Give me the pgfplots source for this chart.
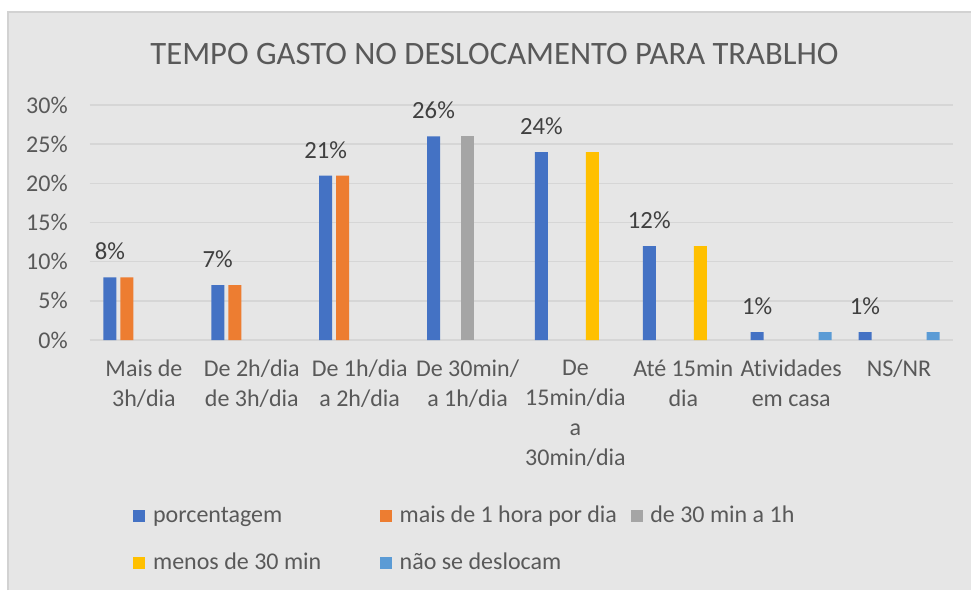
\documentclass[border=0pt]{standalone}
\usepackage{pgfplots}
\pgfplotsset{compat=1.18}
\usepackage{fontspec}
\setmainfont{Carlito}[Ligatures=NoCommon]

\definecolor{cBlue}{HTML}{4472C4}
\definecolor{cOrange}{HTML}{ED7D31}
\definecolor{cGray}{HTML}{A5A5A5}
\definecolor{cYellow}{HTML}{FFC000}
\definecolor{cLight}{HTML}{5B9BD5}
\definecolor{bgGray}{HTML}{E6E6E6}
\definecolor{edgeGray}{HTML}{D2D2D2}
\definecolor{gridGray}{HTML}{D6D6D6}
\definecolor{txt}{HTML}{595959}
\definecolor{lbl}{HTML}{404040}

% 1 px of the reference = 0.75pt
\def\px{0.75pt}

\pgfplotsset{
  sq legend/.style={legend image code/.code={\fill[##1] (0pt,-4.5pt) rectangle (9pt,4.5pt);}},
}

\begin{document}
\begin{tikzpicture}
  \useasboundingbox (-90*\px,-250*\px) rectangle (881*\px,340*\px);
  \fill[white] (-90*\px,-250*\px) rectangle (881*\px,340*\px);
  \fill[bgGray] (-83*\px,-250*\px) rectangle (881*\px,329*\px);
  \draw[edgeGray, line width=1.5pt] (-82*\px,-250*\px) -- (-82*\px,328*\px) -- (881*\px,328*\px);

  \begin{axis}[
      at={(0,0)}, anchor=south west,
      scale only axis,
      width=647.25pt, height=176.25pt,
      xmin=-0.5, xmax=7.5,
      ymin=0, ymax=30,
      clip=false,
      axis line style={draw=none},
      major tick length=0pt,
      ymajorgrids,
      grid style={gridGray, line width=1.2pt},
      ytick={0,5,...,30},
      yticklabel={\pgfmathprintnumber{\tick}\%},
      /pgf/number format/assume math mode=true,
      yticklabel style={anchor=east, inner sep=0pt, xshift=-16.5pt,
        font=\fontsize{18}{22}\selectfont, text=txt},
      xtick={0,...,7},
      xticklabels={{Mais de\\3h/dia},{De 2h/dia\\de 3h/dia},{De 1h/dia\\a 2h/dia},
        {De 30min/\\a 1h/dia},{De\\15min/dia\\a\\30min/dia},{Até 15min\\dia},
        {Atividades\\em casa},{NS/NR}},
      xticklabel style={align=center, anchor=north, inner sep=0pt, yshift=-15pt,
        font=\fontsize{18}{22.5}\selectfont, text=txt},
      legend columns=3,
      legend cell align=left,
      legend style={at={(0.0504,-0.7006)}, anchor=north west,
        draw=none, fill=none, inner sep=0pt, outer sep=0pt,
        font=\fontsize{18}{22}\selectfont, text=txt,
        row sep=17.1pt,
        nodes={inner sep=0pt, text height=13.75pt, text depth=4pt},
        /tikz/every odd column/.append style={column sep=5.7pt}},
    ]
    % porcentagem
    \addplot[ybar, bar width=0.1205, bar shift=-0.3152, fill=cBlue, draw=none, sq legend,
      nodes near coords={\pgfmathprintnumber{\pgfplotspointmeta}\%},
      nodes near coords style={font=\fontsize{18.5}{22}\selectfont, text=lbl,
        anchor=south, inner sep=0pt, yshift=12.75pt, xshift=-25.5pt}]
      coordinates {(0,8) (1,7) (2,21) (3,26) (4,24) (5,12) (6,1) (7,1)};
    \addlegendentry{\makebox[170.25pt][l]{porcentagem}}

    % mais de 1 hora por dia
    \addplot[ybar, bar width=0.1205, bar shift=-0.1576, fill=cOrange, draw=none, sq legend]
      coordinates {(0,8) (1,7) (2,21)};
    \addlegendentry{\makebox[173.25pt][l]{mais de 1 hora por dia}}

    % de 30 min a 1h
    \addplot[ybar, bar width=0.1205, bar shift=0, fill=cGray, draw=none, sq legend]
      coordinates {(3,26)};
    \addlegendentry{de 30 min a 1h}

    % menos de 30 min
    \addplot[ybar, bar width=0.1205, bar shift=0.1576, fill=cYellow, draw=none, sq legend]
      coordinates {(4,24) (5,12)};
    \addlegendentry{\makebox[170.25pt][l]{menos de 30 min}}

    % nao se deslocam
    \addplot[ybar, bar width=0.1205, bar shift=0.3152, fill=cLight, draw=none, sq legend]
      coordinates {(6,1) (7,1)};
    \addlegendentry{\makebox[173.25pt][l]{não se deslocam}}
  \end{axis}

  \node[font=\fontsize{24.5}{29}\selectfont, text=txt, inner sep=0pt]
    at (404.5*\px,285.5*\px) {TEMPO GASTO NO DESLOCAMENTO PARA TRABLHO};
\end{tikzpicture}
\end{document}
